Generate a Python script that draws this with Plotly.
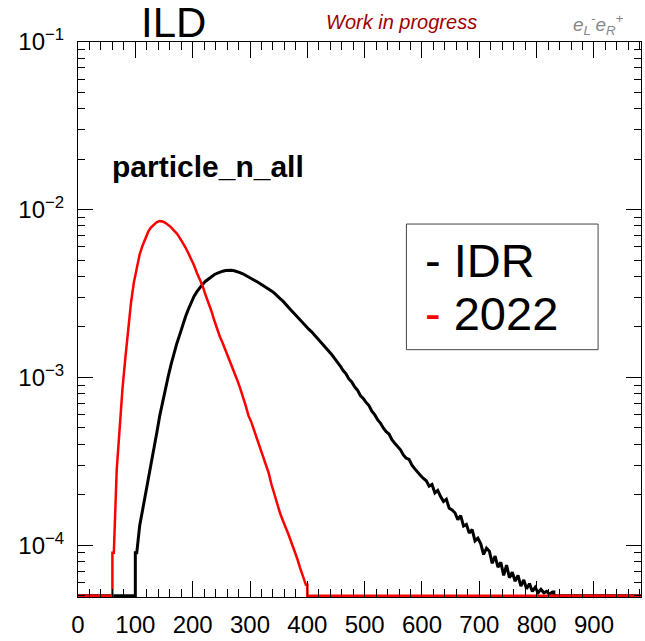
import math
import plotly.graph_objects as go

# ---------------------------------------------------------------------------
# Normalised particle multiplicity (particle_n_all), 5-unit bins
# ---------------------------------------------------------------------------
BIN_WIDTH = 5
X_MAX = 982

# IDR sample: first non-empty bin starts at 100
idr_start = 100
idr_values = [
    9.0e-5, 1.3e-4, 1.6e-4, 2.0e-4, 2.5e-4, 3.1e-4, 3.8e-4, 4.7e-4, 5.9e-4, 7.2e-4,   # 100-145
    8.6e-4, 1.02e-3, 1.2e-3, 1.4e-3, 1.6e-3, 1.8e-3, 2.05e-3, 2.3e-3, 2.55e-3, 2.8e-3,  # 150-195
    3.05e-3, 3.25e-3, 3.45e-3, 3.6e-3, 3.75e-3, 3.88e-3, 4.0e-3, 4.1e-3, 4.18e-3, 4.25e-3,  # 200-245
    4.3e-3, 4.34e-3, 4.36e-3, 4.35e-3, 4.33e-3, 4.29e-3, 4.22e-3, 4.15e-3, 4.07e-3, 3.98e-3,  # 250-295
    3.9e-3, 3.8e-3, 3.72e-3, 3.63e-3, 3.55e-3, 3.46e-3, 3.38e-3, 3.28e-3, 3.18e-3, 3.05e-3,  # 300-345
    2.95e-3, 2.85e-3, 2.74e-3, 2.6e-3, 2.5e-3, 2.4e-3, 2.3e-3, 2.2e-3, 2.1e-3, 2.0e-3,  # 350-395
    1.94e-3, 1.87e-3, 1.79e-3, 1.72e-3, 1.64e-3, 1.57e-3, 1.5e-3, 1.43e-3, 1.37e-3, 1.3e-3,  # 400-445
    1.24e-3, 1.17e-3, 1.1e-3, 1.05e-3, 9.8e-4, 9.4e-4, 8.8e-4, 8.4e-4, 7.8e-4, 7.5e-4,  # 450-495
    7.1e-4, 6.8e-4, 6.3e-4, 6.0e-4, 5.6e-4, 5.35e-4, 5.0e-4, 4.75e-4, 4.6e-4, 4.25e-4,  # 500-545
    4.05e-4, 3.85e-4, 3.7e-4, 3.45e-4, 3.3e-4, 3.25e-4, 3.0e-4, 2.85e-4, 2.7e-4, 2.6e-4,  # 550-595
    2.5e-4, 2.42e-4, 2.25e-4, 2.3e-4, 2.05e-4, 2.12e-4, 1.95e-4, 1.82e-4, 1.88e-4, 1.66e-4,  # 600-645
    1.62e-4, 1.56e-4, 1.42e-4, 1.5e-4, 1.3e-4, 1.33e-4, 1.18e-4, 1.24e-4, 1.06e-4, 1.1e-4,  # 650-695
    1.02e-4, 8.8e-5, 9.6e-5, 9.2e-5, 7.8e-5, 8.6e-5, 7.4e-5, 7.9e-5, 6.6e-5, 7.6e-5,  # 700-745
    6.4e-5, 6.9e-5, 6.1e-5, 6.6e-5, 5.7e-5, 6.2e-5, 5.5e-5, 5.9e-5, 5.3e-5, 5.6e-5,  # 750-795
    5.2e-5, 5.45e-5, 5.2e-5, 5.3e-5, 5.1e-5, 5.25e-5,  # 800-825
]

# 2022 sample: first non-empty bin starts at 60
y2022_start = 60
y2022_values = [
    9.0e-5, 2.8e-4, 5.2e-4, 8.5e-4, 1.3e-3, 2.0e-3, 2.8e-3, 3.7e-3,  # 60-95
    4.6e-3, 5.4e-3, 6.1e-3, 6.8e-3, 7.4e-3, 7.85e-3, 8.2e-3, 8.45e-3, 8.55e-3, 8.5e-3,  # 100-145
    8.35e-3, 8.1e-3, 7.85e-3, 7.5e-3, 7.2e-3, 6.8e-3, 6.4e-3, 5.95e-3, 5.5e-3, 5.1e-3,  # 150-195
    4.65e-3, 4.2e-3, 3.85e-3, 3.5e-3, 3.1e-3, 2.8e-3, 2.5e-3, 2.2e-3, 1.95e-3, 1.75e-3,  # 200-245
    1.6e-3, 1.45e-3, 1.32e-3, 1.2e-3, 1.1e-3, 9.7e-4, 8.7e-4, 7.8e-4, 6.8e-4, 5.9e-4,  # 250-295
    5.4e-4, 4.8e-4, 4.3e-4, 3.8e-4, 3.4e-4, 3.0e-4, 2.7e-4, 2.3e-4, 2.0e-4, 1.75e-4,  # 300-345
    1.55e-4, 1.4e-4, 1.25e-4, 1.15e-4, 1.03e-4, 9.3e-5, 8.3e-5, 7.3e-5, 6.5e-5, 5.8e-5,  # 350-395
]

# y-axis decade labels
y_tick_vals = [1e-4, 1e-3, 1e-2, 1e-1]
y_tick_text = ["10<sup>−4</sup>", "10<sup>−3</sup>", "10<sup>−2</sup>", "10<sup>−1</sup>"]

Y_MIN = 4.91e-5      # lower edge of the frame
ZERO_LEVEL = 5.0e-5  # empty bins are drawn along the frame bottom

FONT = "Liberation Sans, Arial, Helvetica, sans-serif"


def histo_points(start, values):
    """Outline of a filled-bin range: vertical edges at both ends,
    bin contents joined at the bin centres, empty bins on the frame bottom."""
    end = start + len(values) * BIN_WIDTH
    xs = [0.0, start, start]
    ys = [ZERO_LEVEL, ZERO_LEVEL, values[0]]
    for i, v in enumerate(values):
        xs.append(start + (i + 0.5) * BIN_WIDTH)
        ys.append(v)
    xs += [end, end, X_MAX]
    ys += [values[-1], ZERO_LEVEL, ZERO_LEVEL]
    return xs, ys


fig = go.Figure()

bx, by = histo_points(idr_start, idr_values)
fig.add_trace(go.Scatter(x=bx, y=by, mode="lines", line=dict(color="black", width=3),
                         name="IDR", showlegend=False, hoverinfo="skip"))
rx, ry = histo_points(y2022_start, y2022_values)
fig.add_trace(go.Scatter(x=rx, y=ry, mode="lines", line=dict(color="#ff0000", width=2.5),
                         name="2022", showlegend=False, hoverinfo="skip"))

# log minor ticks (2..9 per decade)
minor_vals = [m * 10.0 ** e for e in range(-5, -1) for m in range(2, 10)]
minor_vals = [v for v in minor_vals if Y_MIN <= v <= 0.1]

fig.update_xaxes(
    range=[0, X_MAX], tickmode="linear", tick0=0, dtick=100,
    ticks="inside", ticklen=16, tickwidth=1, tickcolor="black",
    showline=True, linecolor="black", linewidth=1, mirror="ticks",
    showgrid=False, zeroline=False,
    tickfont=dict(family=FONT, size=24, color="black"),
    ticklabelstandoff=6,
    minor=dict(ticks="inside", ticklen=8, tickwidth=1, tickcolor="black", dtick=20, tick0=0, showgrid=False),
)
fig.update_yaxes(
    type="log", range=[math.log10(Y_MIN), -1],
    tickmode="array", tickvals=y_tick_vals, ticktext=y_tick_text,
    ticks="inside", ticklen=15, tickwidth=1, tickcolor="black",
    showline=True, linecolor="black", linewidth=1, mirror="ticks",
    showgrid=False, zeroline=False,
    tickfont=dict(family=FONT, size=24, color="black"),
    ticklabelstandoff=8,
    minor=dict(ticks="inside", ticklen=7, tickwidth=1, tickcolor="black",
               tickmode="array", tickvals=minor_vals, showgrid=False),
)


def px_x(px):
    return (px - 78) / 564.0


def px_y(py):
    return (603 - py) / 561.0


annotations = [
    dict(text="ILD", x=px_x(174), y=px_y(22), font=dict(family=FONT, size=42, color="black")),
    dict(text="<i>Work in progress</i>", x=px_x(402), y=px_y(22), font=dict(family=FONT, size=20, color="#a00000")),
    dict(text="<i>e<sub>L</sub><sup>-</sup>e<sub>R</sub><sup>+</sup></i>", x=px_x(599), y=px_y(24),
         font=dict(family=FONT, size=19, color="#888888")),
    dict(text="<b>particle_n_all</b>", x=px_x(208), y=px_y(168), font=dict(family=FONT, size=30, color="black")),
    dict(text="- IDR", x=px_x(424), y=px_y(263), xanchor="left", font=dict(family=FONT, size=47, color="black")),
    dict(text="<span style='color:#ff0000'>-</span> 2022", x=px_x(424), y=px_y(316), xanchor="left",
         font=dict(family=FONT, size=47, color="black")),
]
for a in annotations:
    a.setdefault("xanchor", "center")
    fig.add_annotation(xref="paper", yref="paper", yanchor="middle", showarrow=False, **a)

# legend frame
fig.add_shape(type="rect", xref="paper", yref="paper",
              x0=px_x(407), x1=px_x(599), y0=px_y(353), y1=px_y(226),
              line=dict(color="#444444", width=1), fillcolor="rgba(0,0,0,0)", layer="below")

fig.update_layout(
    width=645, height=641, autosize=False,
    margin=dict(l=78, r=3, t=42, b=38),
    paper_bgcolor="white", plot_bgcolor="white",
    showlegend=False,
)

fig.write_html("out.html")
